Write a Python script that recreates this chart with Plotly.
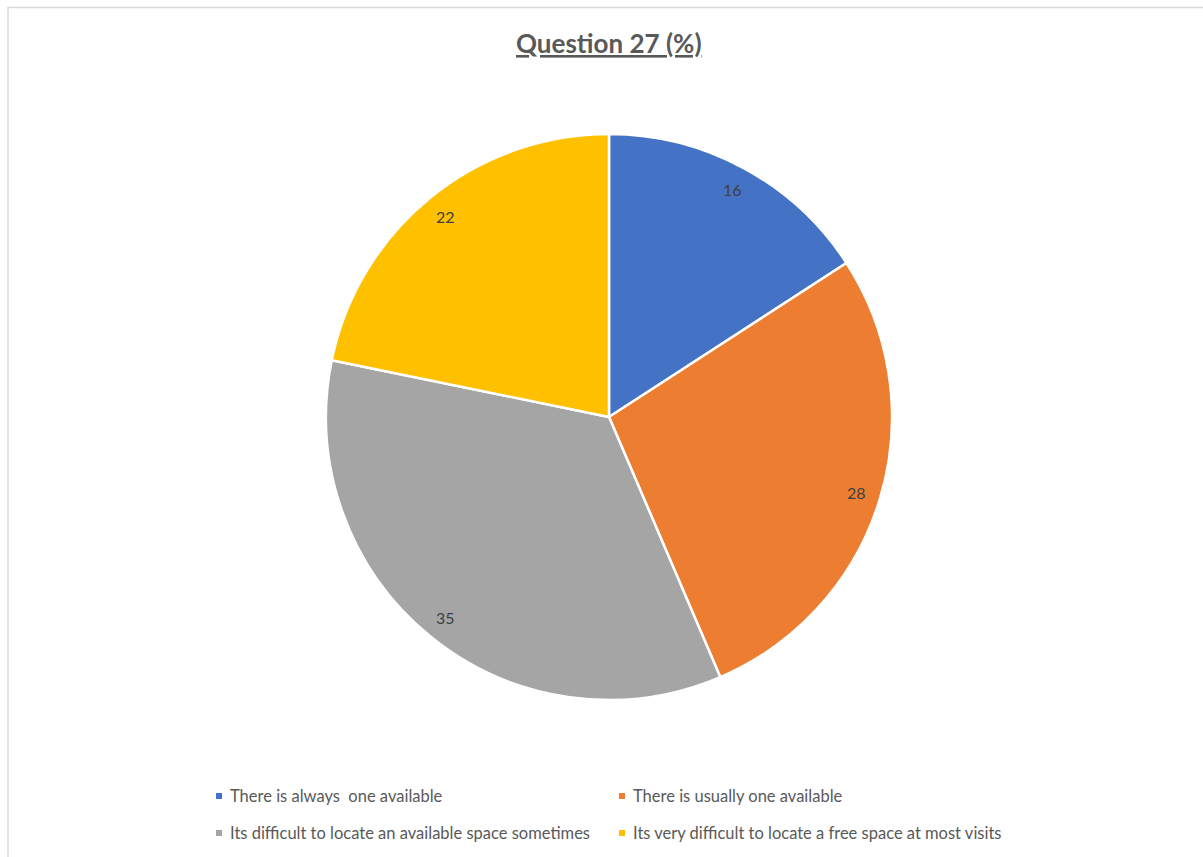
import math
import plotly.graph_objects as go

# Survey responses for question 27 (percent)
labels = [
    "There is always  one available",
    "There is usually one available",
    "Its difficult to locate an available space sometimes",
    "Its very difficult to locate a free space at most visits",
]
values = [16, 28, 35, 22]
colors = ["#4472C4", "#ED7D31", "#A5A5A5", "#FFC000"]

W, H = 1203, 857
CX, CY, R = 609, 417, 283  # pie centre / radius in pixels
FONT = "Lato, Open Sans, sans-serif"

fig = go.Figure(
    go.Pie(
        labels=labels,
        values=values,
        sort=False,
        direction="clockwise",
        rotation=0,
        marker=dict(colors=colors, line=dict(color="white", width=2.5)),
        textinfo="none",
        hoverinfo="label+value",
        showlegend=False,
        domain=dict(
            x=[(CX - R) / W, (CX + R) / W],
            y=[1 - (CY + R) / H, 1 - (CY - R) / H],
        ),
    )
)

# value labels placed near the outer end of each slice
total = sum(values)
cum = 0
annotations = []
for v in values:
    mid = (cum + v / 2) / total * 2 * math.pi
    cum += v
    px = CX + 0.915 * R * math.sin(mid)
    py = CY - 0.915 * R * math.cos(mid)
    annotations.append(
        dict(
            x=px / W, y=1 - py / H, xref="paper", yref="paper",
            xanchor="center", yanchor="middle",
            text=str(v), showarrow=False,
            font=dict(family=FONT, size=16, color="#404040"),
        )
    )

# chart title
annotations.append(
    dict(
        x=CX / W, y=1 - 43 / H, xref="paper", yref="paper",
        xanchor="center", yanchor="middle",
        text="<b><u>Question 27 (%)</u></b>", showarrow=False,
        font=dict(family=FONT, size=26, color="#595959"),
    )
)

# two-column legend below the pie: small colour square + label
shapes = [
    dict(
        type="rect", xref="paper", yref="paper",
        x0=8 / W, x1=1.01, y0=-0.01, y1=1 - 7.5 / H,
        line=dict(color="#D9D9D9", width=1.5),
    )
]
col_x = [216, 619]
row_y = [796, 833]
for i, (lab, col) in enumerate(zip(labels, colors)):
    lx = col_x[i % 2]
    ly = row_y[i // 2]
    shapes.append(
        dict(
            type="rect", xref="paper", yref="paper",
            x0=lx / W, x1=(lx + 6) / W,
            y0=1 - (ly + 3) / H, y1=1 - (ly - 3) / H,
            fillcolor=col, line=dict(width=0),
        )
    )
    annotations.append(
        dict(
            x=(lx + 12) / W, y=1 - ly / H, xref="paper", yref="paper",
            xanchor="left", yanchor="middle",
            text=lab, showarrow=False,
            font=dict(family=FONT, size=16.5, color="#595959"),
        )
    )

fig.update_layout(
    width=W,
    height=H,
    margin=dict(l=0, r=0, t=0, b=0),
    paper_bgcolor="white",
    plot_bgcolor="white",
    annotations=annotations,
    shapes=shapes,
    showlegend=False,
)

fig.write_html("out.html")
